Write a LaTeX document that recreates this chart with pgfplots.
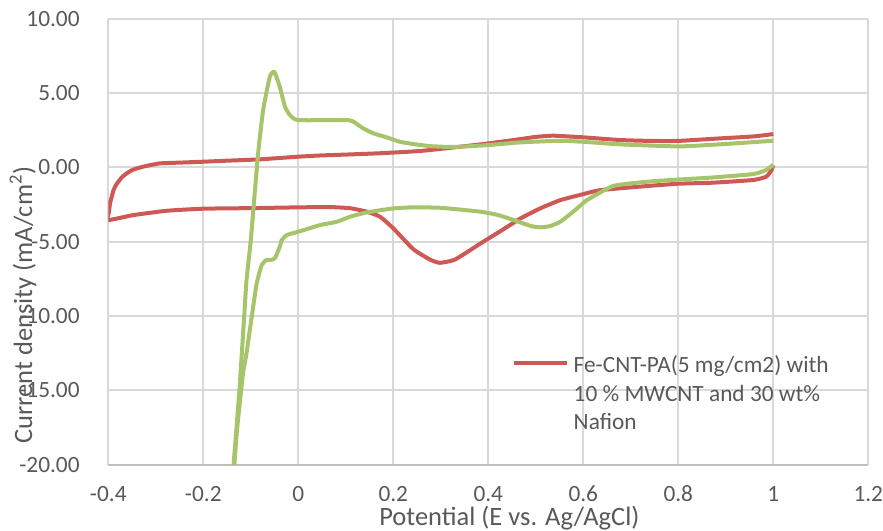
\documentclass[border=0pt]{standalone}
\usepackage{fontspec}
\setmainfont{Carlito}
\usepackage{pgfplots}
\pgfplotsset{compat=1.18}
\definecolor{cvred}{RGB}{206,88,84}
\definecolor{cvgreen}{RGB}{166,196,106}
\definecolor{gridgray}{RGB}{217,217,217}
\definecolor{axisgray}{RGB}{191,191,191}
\definecolor{labelgray}{RGB}{89,89,89}
\begin{document}
\begin{tikzpicture}
\begin{axis}[
  scale only axis, width=380bp, height=223bp,
  xmin=-0.4, xmax=1.2, ymin=-20, ymax=10,
  xtick={-0.4,-0.2,0,0.2,0.4,0.6,0.8,1,1.2},
  xticklabels={-0.4,-0.2,0,0.2,0.4,0.6,0.8,1,1.2},
  ytick={-20,-15,-10,-5,0,5,10},
  yticklabels={-20.00,-15.00,-10.00,-5.00,0.00,5.00,10.00},
  major tick length=0pt,
  axis line style={draw=none},
  grid=major, major grid style={draw=gridgray, line width=1bp},
  extra y ticks={-20}, extra y tick labels={},
  extra y tick style={major grid style={draw=axisgray, line width=1bp}},
  tick label style={font=\fontsize{11.7}{14}\selectfont, text=labelgray, inner sep=0pt},
  xticklabel style={anchor=center, yshift=-14.65bp},
  yticklabel style={anchor=east, xshift=-14.15bp},
  xlabel={Potential (E vs. Ag/AgCl)},
  ylabel={Current density (mA/cm\textsuperscript{2})},
  label style={font=\fontsize{13.3}{16}\selectfont, text=labelgray, inner sep=0pt},
  xlabel style={at={([yshift=-26.7bp]rel axis cs:0.5277,0)}, anchor=center},
  ylabel style={at={([xshift=-42.65bp]rel axis cs:0,0.358)}, anchor=center},
  legend style={at={(rel axis cs:0.5308,0.251)}, anchor=north west, draw=none, fill=none,
    inner sep=0pt, outer sep=0pt, font=\fontsize{11.7}{14.35}\selectfont, text=labelgray,
    column sep=2.5bp, nodes={inner sep=0pt}},
  legend cell align=left,
  legend style={cells={anchor=base west}},
  legend image code/.code={\draw[#1] (0bp,5bp) -- (26.5bp,5bp);},
]
\addplot[cvred, line width=2bp, line join=round, smooth, tension=0.3] coordinates {
(1.000,2.24) (0.958,2.08) (0.888,1.95) (0.800,1.78) (0.740,1.78) (0.677,1.84)
(0.600,2.02) (0.537,2.13) (0.500,2.05) (0.467,1.90) (0.400,1.61) (0.330,1.35)
(0.256,1.10) (0.172,0.95) (0.100,0.86) (0.046,0.80) (0.000,0.72) (-0.081,0.54)
(-0.150,0.45) (-0.200,0.38) (-0.249,0.32) (-0.291,0.27) (-0.312,0.15)
(-0.326,0.05) (-0.340,-0.07) (-0.351,-0.20) (-0.361,-0.40) (-0.371,-0.65)
(-0.379,-0.97) (-0.384,-1.20) (-0.389,-1.53) (-0.393,-2.00) (-0.3964,-2.42)
(-0.3985,-3.00) (-0.400,-3.54)
(-0.347,-3.21) (-0.277,-2.92) (-0.200,-2.78) (-0.095,-2.74) (0.000,-2.69)
(0.067,-2.67) (0.110,-2.75) (0.144,-2.98) (0.172,-3.32) (0.200,-4.10)
(0.242,-5.50) (0.277,-6.20) (0.298,-6.42) (0.330,-6.20) (0.384,-5.11)
(0.430,-4.20) (0.468,-3.43) (0.510,-2.75) (0.552,-2.20) (0.600,-1.80)
(0.636,-1.53) (0.733,-1.26) (0.800,-1.10) (0.873,-1.03) (0.958,-0.85)
(0.985,-0.63) (0.995,-0.25) (1.000,0.15)
};
\addlegendentry{\begin{tabular}[t]{@{}l@{}}Fe-CNT-PA(5 mg/cm2) with\\10 \% MWCNT and 30 wt\%\\Nafion\end{tabular}}
\addplot[cvgreen, line width=2bp, line join=round, smooth, tension=0.3, forget plot] coordinates {
(-0.137,-20.3) (-0.124,-15.0) (-0.114,-10.05) (-0.109,-7.58) (-0.100,-4.89)
(-0.085,0.80) (-0.074,3.85) (-0.060,6.09) (-0.0505,6.43) (-0.039,5.42)
(-0.028,4.08) (-0.0175,3.52) (0.000,3.18) (0.102,3.18) (0.116,3.07)
(0.137,2.62) (0.158,2.29) (0.186,2.02) (0.214,1.72) (0.242,1.57) (0.277,1.43)
(0.326,1.37) (0.400,1.50) (0.467,1.68) (0.551,1.79) (0.600,1.72) (0.677,1.55)
(0.800,1.41) (0.888,1.55) (1.000,1.79)
};
\addplot[cvgreen, line width=2bp, line join=round, smooth, tension=0.3, forget plot] coordinates {
(1.000,0.18) (0.985,-0.18) (0.958,-0.45) (0.873,-0.68) (0.800,-0.82)
(0.733,-0.97) (0.663,-1.25) (0.608,-2.20) (0.580,-2.95) (0.552,-3.65)
(0.530,-3.95) (0.510,-4.03) (0.490,-3.95) (0.453,-3.54) (0.420,-3.20)
(0.383,-2.98) (0.300,-2.72) (0.242,-2.69) (0.200,-2.76) (0.144,-3.03)
(0.109,-3.32) (0.081,-3.66) (0.046,-3.88) (0.000,-4.33) (-0.024,-4.55)
(-0.035,-4.90) (-0.039,-5.34) (-0.049,-6.10) (-0.058,-6.23) (-0.067,-6.23)
(-0.077,-6.57) (-0.0876,-7.80) (-0.098,-10.05) (-0.109,-12.5) (-0.117,-14.0)
(-0.130,-18.0) (-0.135,-20.3)
};
\end{axis}
\pgfresetboundingbox
\path[use as bounding box] (current axis.south west) ++(-54.15bp,-33.15bp) rectangle ++(441.5bp,265.5bp);
\end{tikzpicture}
\end{document}
